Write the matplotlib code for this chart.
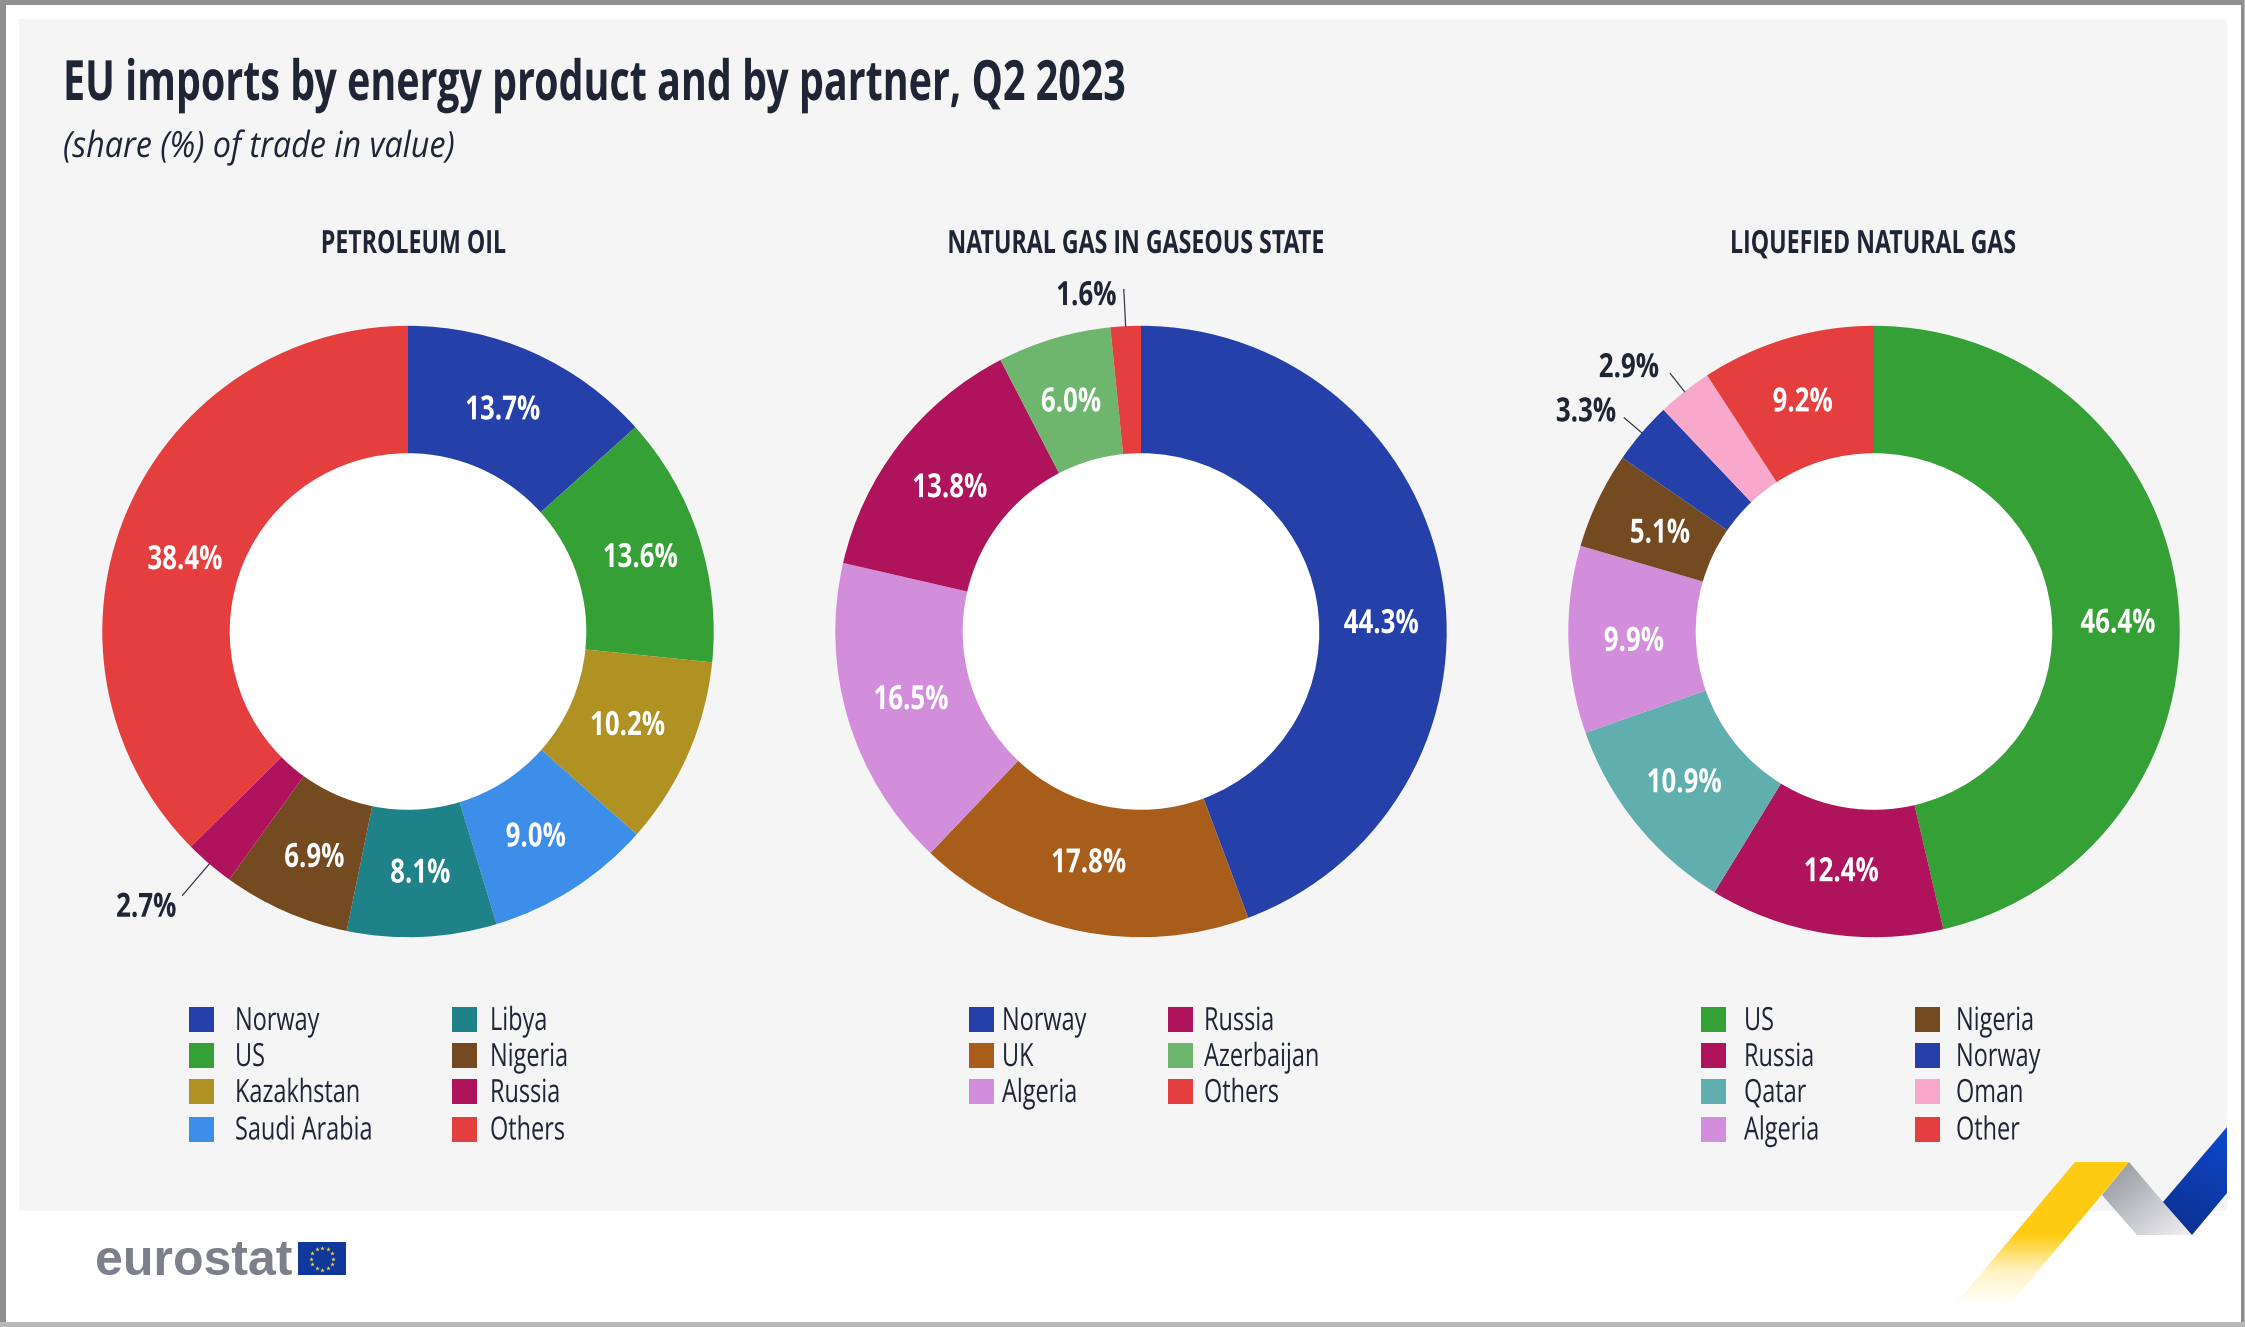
import numpy as np
import matplotlib
matplotlib.use("Agg")
import matplotlib.pyplot as plt
from matplotlib.patches import Rectangle, Polygon, Circle
from matplotlib.colors import LinearSegmentedColormap
from matplotlib.patheffects import AbstractPathEffect
from matplotlib.transforms import Affine2D

W, H = 2245, 1327
plt.rcParams['font.family'] = ['Open Sans', 'Noto Sans', 'DejaVu Sans']
INK = '#1f2535'


class Narrow(AbstractPathEffect):
    """Squeezes the glyphs of a text sideways about its alignment point."""

    def __init__(self, sx, ha='left'):
        super().__init__()
        self.sx, self.ha = sx, ha

    def draw_path(self, renderer, gc, tpath, affine, rgbFace=None):
        xmax = tpath.vertices[:, 0].max() if len(tpath.vertices) else 0
        k = {'left': 0, 'center': 0.5, 'right': 1}[self.ha]
        pre = Affine2D().scale(self.sx, 1).translate((1 - self.sx) * xmax * k, 0)
        renderer.draw_path(gc, tpath, pre + affine, rgbFace)


COLORS = {'Norway': '#2540a8', 'US': '#35a035', 'Kazakhstan': '#b09223', 'Saudi Arabia': '#3d8ee8',
          'Libya': '#1f8288', 'Nigeria': '#744a20', 'Russia': '#ae135c', 'Others': '#e43e3f',
          'Other': '#e43e3f', 'UK': '#a85d1a', 'Algeria': '#d38edb', 'Azerbaijan': '#6eb56e',
          'Qatar': '#61aeae', 'Oman': '#f8a9cb'}

oil_partners = ['Norway', 'US', 'Kazakhstan', 'Saudi Arabia', 'Libya', 'Nigeria', 'Russia', 'Others']
oil_values = [13.7, 13.6, 10.2, 9.0, 8.1, 6.9, 2.7, 38.4]
gas_partners = ['Norway', 'UK', 'Algeria', 'Russia', 'Azerbaijan', 'Others']
gas_values = [44.3, 17.8, 16.5, 13.8, 6.0, 1.6]
lng_partners = ['US', 'Russia', 'Qatar', 'Algeria', 'Nigeria', 'Norway', 'Oman', 'Other']
lng_values = [46.4, 12.4, 10.9, 9.9, 5.1, 3.3, 2.9, 9.2]

fig = plt.figure(figsize=(W / 100, H / 100), dpi=100, facecolor='#9a9a9a')
bg = fig.add_axes([0, 0, 1, 1], zorder=0)
bg.set_xlim(0, W)
bg.set_ylim(H, 0)
bg.axis('off')


def grad(poly, colors, direction):
    cmap = LinearSegmentedColormap.from_list('g', colors)
    xs = [p[0] for p in poly]
    ys = [p[1] for p in poly]
    n = 200
    yy, xx = np.mgrid[0:1:n * 1j, 0:1:n * 1j]
    arr = direction[0] * xx + direction[1] * yy
    arr = (arr - arr.min()) / (arr.max() - arr.min())
    im = bg.imshow(arr, cmap=cmap, extent=(min(xs), max(xs), max(ys), min(ys)), aspect='auto', zorder=3,
                   interpolation='bilinear')
    patch = Polygon(poly, closed=True, transform=bg.transData, fc='none', ec='none')
    bg.add_patch(patch)
    im.set_clip_path(patch)


# frame and panel
bg.add_patch(Rectangle((0, 0), W, H, fc='#b9b9b9', ec='none', zorder=0))
bg.add_patch(Rectangle((0, 0), W - 1, H - 5, fc='#8f8f8f', ec='none', zorder=0.1))
bg.add_patch(Rectangle((6, 5), W - 10, H - 10, fc='white', ec='none', zorder=0.2))
bg.add_patch(Rectangle((19, 19), 2227 - 19, 1211 - 19, fc='#f5f5f5', ec='none', zorder=0.3))

# ribbon
grad([(2075, 1162), (2129, 1162), (2008, 1307), (1953, 1307)],
     ['#ffffff', '#fff3c4', '#ffcb12', '#ffcb12', '#ffcb12'], (0, -1))
grad([(2129, 1162), (2102, 1195), (2137, 1235), (2192, 1235), (2163, 1202)],
     ['#8f9199', '#f2f2f4'], (1, 1))
grad([(2227, 1127), (2227, 1193), (2192, 1235), (2163, 1202)],
     ['#0c2f8c', '#0e48cc'], (0.3, -1))

# titles
bg.text(63, 100, 'EU imports by energy product and by partner, Q2 2023', fontsize=40, fontweight='bold',
        color=INK, va='baseline', ha='left', zorder=5, path_effects=[Narrow(0.71)])
bg.text(63, 157, '(share (%) of trade in value)', fontsize=26, fontstyle='italic', color=INK,
        va='baseline', ha='left', zorder=5, path_effects=[Narrow(0.895)])

# logo
bg.text(95, 1275, 'eurostat', family='Liberation Sans', fontweight='bold', fontsize=36, color='#7d7f8a',
        va='baseline', ha='left', zorder=5)
bg.add_patch(Rectangle((298, 1242), 48, 33, fc='#10379a', ec='none', zorder=5))
star_a = np.linspace(0, 2 * np.pi, 12, endpoint=False)
bg.scatter(322 + 11 * np.cos(star_a), 1258.5 + 11 * np.sin(star_a), marker='*', s=12, c='#f2d43a',
           linewidths=0, zorder=6)

CY = 631.5
R_OUT = 305.7
R_IN = 178.3
SC = 1.432

charts = [
    dict(title='PETROLEUM OIL', title_x=414, cx=408, partners=oil_partners, values=oil_values,
         legend_x=[(189, 235), (452, 490)], legend_rows=4,
         callouts={6: (0.135, -6, -13)},
         nudges=[(-2, -1), (3, 1), (0, -1), (-1, 3), (1, 2), (2, 5), (0, 0), (-1, 15)]),
    dict(title='NATURAL GAS IN GASEOUS STATE', title_x=1137, cx=1141, partners=gas_partners, values=gas_values,
         legend_x=[(969, 1002), (1168, 1204)], legend_rows=3,
         callouts={5: (0.12, -7, -7)},
         nudges=[(3, 25), (-3, -2), (0, 0), (-1, 3), (-1, 1), (0, 0)]),
    dict(title='LIQUEFIED NATURAL GAS', title_x=1874, cx=1874, partners=lng_partners, values=lng_values,
         legend_x=[(1701, 1744), (1915, 1956)], legend_rows=4,
         callouts={5: (0.075, -8, 5), 6: (0.075, -11, 5)},
         nudges=[(4, 14), (4, 3), (-2, 1), (0, 3), (2, 4), (0, 0), (0, 0), (-2, 1)]),
]
LEGEND_Y = [1019.5, 1055.5, 1091.5, 1129]

for c in charts:
    ax = fig.add_axes([(c['cx'] - R_OUT) / W, 1 - (CY + R_OUT) / H, 2 * R_OUT / W, 2 * R_OUT / H], zorder=1)
    ax.add_patch(Circle((0, 0), R_IN / R_OUT, fc='white', ec='none', zorder=0))
    wedges, _ = ax.pie(c['values'], colors=[COLORS[p] for p in c['partners']], startangle=90, counterclock=False,
                       radius=1, wedgeprops=dict(width=1 - R_IN / R_OUT, linewidth=0))
    ax.set_xlim(-1, 1)
    ax.set_ylim(-1, 1)
    ax.set_aspect('equal')
    ax.patch.set_visible(False)
    for i, (w, v) in enumerate(zip(wedges, c['values'])):
        a = np.deg2rad((w.theta1 + w.theta2) / 2)
        label = f'{v:.1f}%'
        if i in c['callouts']:
            extra, dx, dy = c['callouts'][i]
            end = ((1 + extra) * np.cos(a), (1 + extra) * np.sin(a))
            ax.plot([np.cos(a), end[0]], [np.sin(a), end[1]], color='#333a47', lw=0.9, clip_on=False, zorder=4)
            ax.annotate(label, xy=end, xytext=(dx, dy), textcoords='offset pixels', ha='right', va='center',
                        fontsize=24, fontweight='bold', color=INK, annotation_clip=False, zorder=5,
                        path_effects=[Narrow(0.777, 'right')])
        else:
            nx, ny = c['nudges'][i]
            ax.annotate(label, xy=(0.785 * np.cos(a), 0.785 * np.sin(a)), xytext=(nx * SC, -ny * SC),
                        textcoords='offset pixels', ha='center', va='center', fontsize=24, fontweight='bold',
                        color='white', zorder=5, path_effects=[Narrow(0.777, 'center')])

    bg.text(c['title_x'], 244.5, c['title'], ha='center', va='center', fontsize=23, fontweight='bold', color=INK,
            zorder=5, path_effects=[Narrow(0.725, 'center')])
    rows = c['legend_rows']
    for i, p in enumerate(c['partners']):
        sq_x, tx_x = c['legend_x'][i // rows]
        y = LEGEND_Y[i % rows]
        bg.add_patch(Rectangle((sq_x, y - 12.5), 25, 25, fc=COLORS[p], ec='none', zorder=5))
        bg.text(tx_x, y + 2, p, ha='left', va='center', fontsize=23, color=INK, zorder=5,
                path_effects=[Narrow(0.735)])

fig.savefig('out.png', dpi=100, facecolor=fig.get_facecolor())
